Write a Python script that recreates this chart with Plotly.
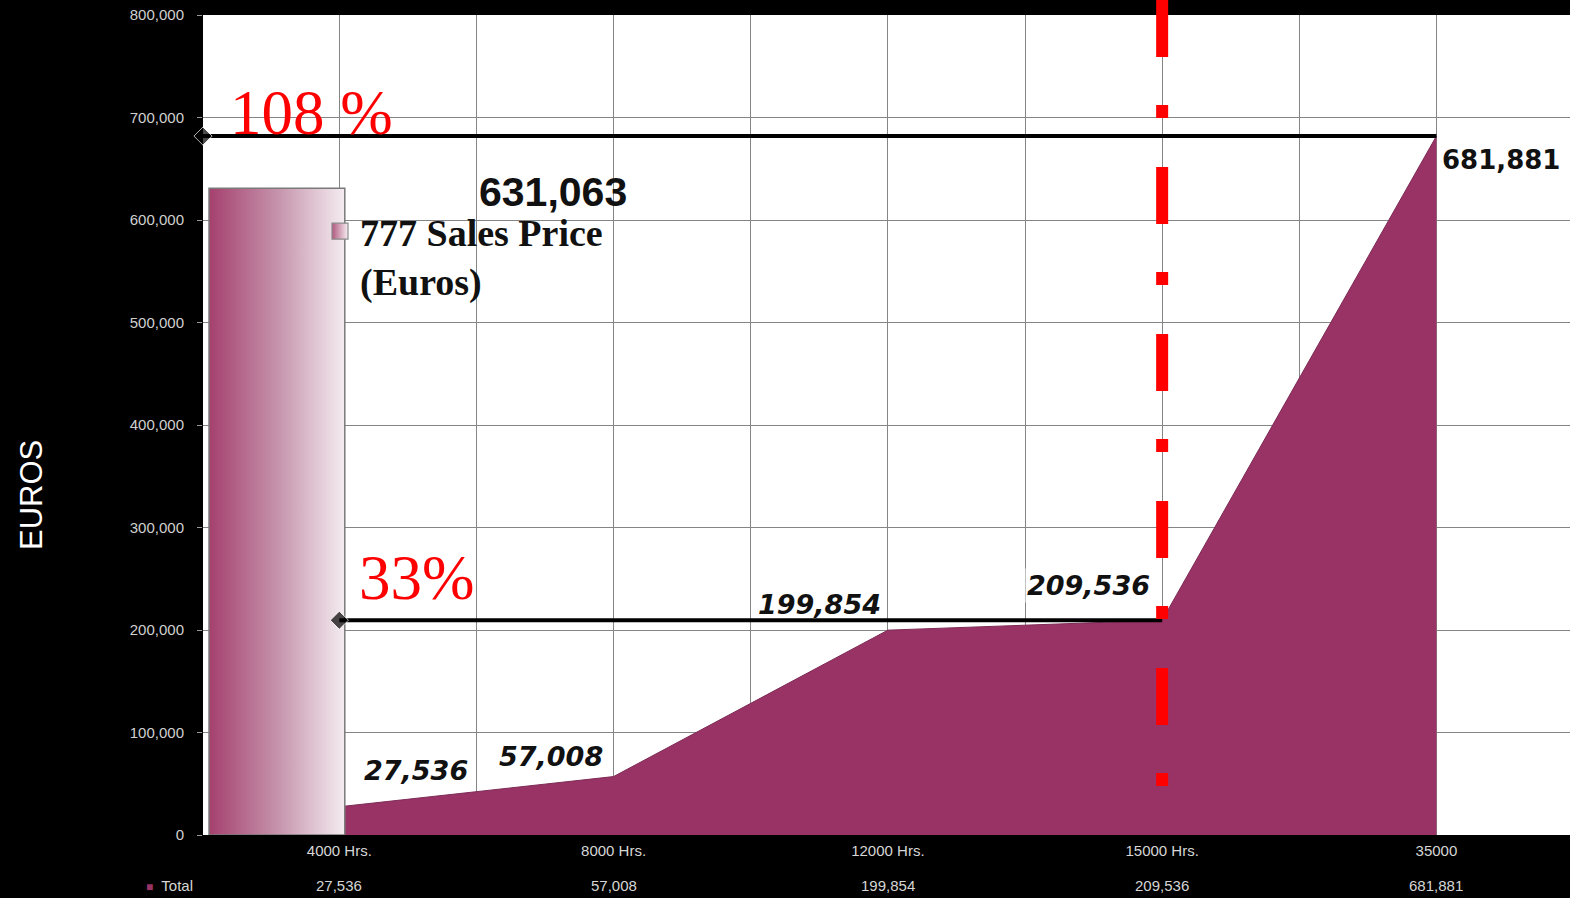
import plotly.graph_objects as go

# Flight-hour checks and cumulative maintenance cost (Euros)
categories = ["4000 Hrs.", "8000 Hrs.", "12000 Hrs.", "15000 Hrs.", "35000"]
total_cost = [27536, 57008, 199854, 209536, 681881]
sales_price = 631063  # 777 sales price (Euros)
pct_labels = ["33%", "108 %"]

y_ticks = [0, 100000, 200000, 300000, 400000, 500000, 600000, 700000, 800000]

W, H = 1570, 898
L, R, T, B = 203, 0, 15, 63
PLUM = "#993366"
X_RANGE = [-0.497, 4.487]

xs = list(range(len(categories)))


def px_to_paper_x(px):
    return (px - L) / (W - L - R)


def px_to_paper_y(py):
    return (H - B - py) / (H - T - B)


fig = go.Figure()

# Cumulative cost area
fig.add_trace(go.Scatter(
    x=xs, y=total_cost, mode="lines", fill="tozeroy",
    fillcolor=PLUM, line=dict(color="#7d2a55", width=1),
    name="Total", showlegend=False, hoverinfo="skip",
))

# Sales price column with a horizontal shading
grad_scale = [[0, "#a5406e"], [0.5, "#c592ab"], [1, "#f4ecf0"]]
bx0, bx1 = -0.475, 0.02
fig.add_trace(go.Scatter(
    x=[bx0, bx1, bx1, bx0, bx0], y=[0, 0, sales_price, sales_price, 0],
    mode="lines", fill="toself",
    fillgradient=dict(type="horizontal", colorscale=grad_scale),
    line=dict(color="#7a7a7a", width=1.5),
    name="777 Sales Price", showlegend=False, hoverinfo="skip",
))
# Legend key for the sales price column
fig.add_trace(go.Scatter(
    x=[None], y=[None], mode="markers",
    marker=dict(symbol="square", size=22, color="#b0587f",
                gradient=dict(type="horizontal", color="#f6eef2"),
                line=dict(color="#8a8a8a", width=1.2)),
    name="777 Sales Price<br>(Euros)", showlegend=True, hoverinfo="skip",
))

# Ratio markers: cost level against the sales price
fig.add_trace(go.Scatter(
    x=[xs[0], xs[3]], y=[total_cost[3], total_cost[3]], mode="lines+markers",
    line=dict(color="black", width=4),
    marker=dict(symbol="diamond", size=[14, 0], color="black"),
    showlegend=False, hoverinfo="skip", cliponaxis=False,
))
fig.add_trace(go.Scatter(
    x=[X_RANGE[0], xs[4]], y=[total_cost[4], total_cost[4]], mode="lines+markers",
    line=dict(color="black", width=4),
    marker=dict(symbol="diamond", size=[14, 0], color="black"),
    showlegend=False, hoverinfo="skip", cliponaxis=False,
))

# Dash-dot red marker at the 15000 Hrs. check
fig.add_shape(type="line", xref="x", yref="paper",
              x0=xs[3], x1=xs[3], y0=px_to_paper_y(0), y1=0,
              line=dict(color="#ff0000", width=12, dash="57px,48px,13px,49px"),
              layer="above")

annotations = []

val_font = dict(family="DejaVu Sans", size=27, color="#111111")
offsets = [(77, 36), (-63, 20), (-68, 26), (-74, 35)]
for i, (dx, dy) in enumerate(offsets):
    annotations.append(dict(
        x=xs[i], y=total_cost[i], xref="x", yref="y",
        text=f"<b><i>{total_cost[i]:,}</i></b>", showarrow=False,
        xshift=dx, yshift=dy, font=val_font,
        bgcolor="rgba(0,0,0,0)" if i == 2 else "white",
        xanchor="center", yanchor="middle",
    ))
annotations.append(dict(
    x=xs[4], y=total_cost[4], xref="x", yref="y",
    text=f"<b>{total_cost[4]:,}</b>", showarrow=False,
    xanchor="left", yanchor="middle", xshift=4, yshift=-24,
    font=dict(family="DejaVu Sans", size=26, color="#111111"),
))
annotations.append(dict(
    x=0.78, y=sales_price, xref="x", yref="y",
    text=f"<b>{sales_price:,}</b>", showarrow=False,
    xanchor="center", yanchor="middle", yshift=-4,
    font=dict(family="Liberation Sans", size=41, color="#111111"),
))

# Percent labels
red_font = dict(family="Liberation Serif", size=63, color="#ff0000")
annotations.append(dict(x=0.283, y=250700, xref="x", yref="y", text=pct_labels[0],
                        showarrow=False, font=red_font, xanchor="center", yanchor="middle"))
annotations.append(dict(x=-0.101, y=704400, xref="x", yref="y", text=pct_labels[1],
                        showarrow=False, font=red_font, xanchor="center", yanchor="middle"))

# Y axis title
annotations.append(dict(
    x=px_to_paper_x(31), y=px_to_paper_y(495), xref="paper", yref="paper",
    text="EUROS", textangle=-90, showarrow=False,
    xanchor="center", yanchor="middle",
    font=dict(family="Liberation Sans", size=31, color="white"),
))

# Data table row under the axis
table_font = dict(family="Liberation Sans", size=15, color="#d6d6d6")
row_y = px_to_paper_y(885)
annotations.append(dict(
    x=px_to_paper_x(195), y=row_y, xref="paper", yref="paper",
    text=f"<span style='color:{PLUM};font-size:12px'>■</span>  Total",
    showarrow=False, xanchor="right", yanchor="middle", font=table_font,
))
for i, v in enumerate(total_cost):
    annotations.append(dict(
        x=xs[i], y=row_y, xref="x", yref="paper", text=f"{v:,}",
        showarrow=False, xanchor="center", yanchor="middle", font=table_font,
    ))

grid_vals = [k / 2 for k in range(-1, 2 * len(categories))]
grid_text = [categories[int(v)] if float(v).is_integer() and v >= 0 else "" for v in grid_vals]

fig.update_layout(
    width=W, height=H,
    margin=dict(l=L, r=R, t=T, b=B, pad=0),
    paper_bgcolor="black", plot_bgcolor="white",
    annotations=annotations,
    showlegend=True,
    legend=dict(
        x=px_to_paper_x(320), y=px_to_paper_y(200),
        xanchor="left", yanchor="top", bgcolor="rgba(0,0,0,0)",
        font=dict(family="Liberation Serif", size=38, color="#111111", weight="bold"),
        valign="top", itemwidth=30, tracegroupgap=0,
    ),
    xaxis=dict(
        range=X_RANGE, tickmode="array", tickvals=grid_vals, ticktext=grid_text,
        showgrid=True, gridcolor="#858585", gridwidth=1.4, zeroline=False,
        showline=False, ticks="", fixedrange=True, ticklabelstandoff=5,
        tickfont=dict(family="Liberation Sans", size=15, color="#d6d6d6"),
    ),
    yaxis=dict(
        range=[0, 800000], tickmode="array", tickvals=y_ticks,
        ticktext=[f"{v:,}" for v in y_ticks],
        showgrid=True, gridcolor="#858585", gridwidth=1.4, zeroline=False,
        showline=False, ticks="outside", ticklen=5, tickcolor="#9a9a9a",
        ticklabelstandoff=10, fixedrange=True,
        tickfont=dict(family="Liberation Sans", size=15, color="#d0d0d0"),
    ),
)

fig.write_html("out.html")
